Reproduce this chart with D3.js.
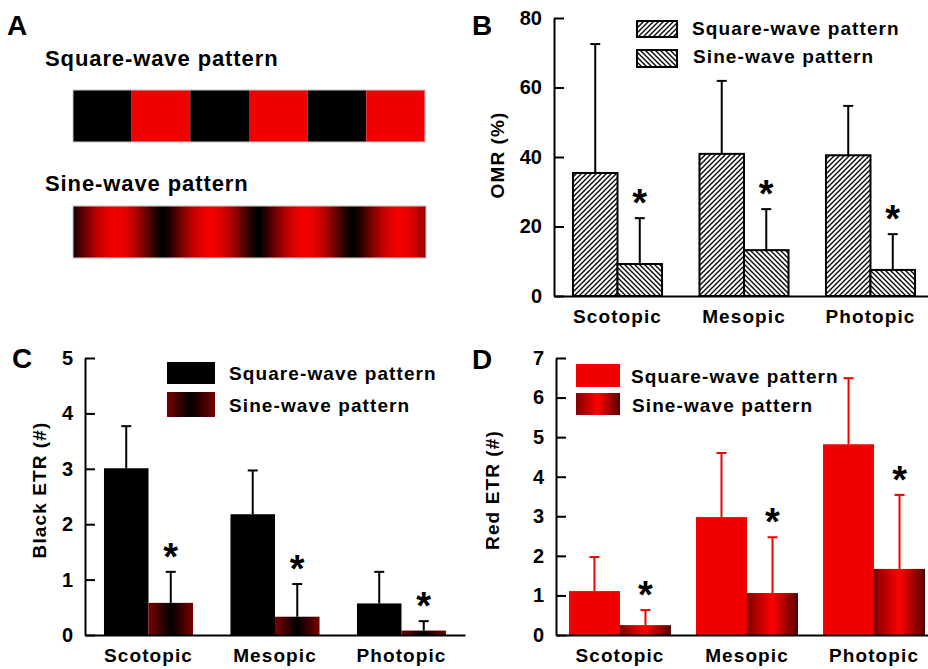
<!DOCTYPE html>
<html>
<head>
<meta charset="utf-8">
<script src="https://cdn.jsdelivr.net/npm/d3@7"></script>
<style>
  body { margin: 0; background: #fff; }
  svg text { font-family: 'Liberation Sans', Arial, sans-serif; font-weight: bold; }
</style>
</head>
<body>
<div id="chart"></div>
<script>
// conditions and series
var conditions = ['Scotopic', 'Mesopic', 'Photopic']
var seriesNames = ['Square-wave pattern', 'Sine-wave pattern']

// B: optomotor response (%)
var omrSquare   = [35.4, 40.9, 40.5]
var omrSquareSD = [37.1, 21.0, 14.2]
var omrSine     = [9.2, 13.2, 7.5]
var omrSineSD   = [13.2, 11.8, 10.3]
var omrTicks    = [0, 20, 40, 60, 80]

// C: black ETR (#)
var blackSquare   = [3.01, 2.18, 0.57]
var blackSquareSD = [0.76, 0.79, 0.57]
var blackSine     = [0.58, 0.33, 0.08]
var blackSineSD   = [0.56, 0.59, 0.17]
var blackTicks    = [0, 1, 2, 3, 4, 5]

// D: red ETR (#)
var redSquare   = [1.11, 2.98, 4.82]
var redSquareSD = [0.86, 1.62, 1.67]
var redSine     = [0.25, 1.06, 1.67]
var redSineSD   = [0.38, 1.41, 1.87]
var redTicks    = [0, 1, 2, 3, 4, 5, 6, 7]

// A: stimulus patterns
var stripeColors = ['#000', '#f20000', '#000', '#f20000', '#000', '#f20000']
var sineCycles = 3.72
var sinePhase = 0.053

var RED = '#f20000'
var width = 928, height = 669

var svg = d3.select('#chart').append('svg')
            .attr('width', width)
            .attr('height', height)
var defs = svg.append('defs')

// hatch patterns for panel B
function hatch(id, d) {
  var p = defs.append('pattern')
              .attr('id', id)
              .attr('patternUnits', 'userSpaceOnUse')
              .attr('width', 5)
              .attr('height', 5)
  p.append('rect').attr('width', 5).attr('height', 5).attr('fill', '#fff')
  p.append('path').attr('d', d).attr('stroke', '#000').attr('stroke-width', 1.3)
}
hatch('hatchUp', 'M-1,1 l2,-2 M0,5 l5,-5 M4,6 l2,-2')
hatch('hatchDown', 'M-1,4 l2,2 M0,0 l5,5 M4,-1 l2,2')

function gradient(id, colors) {
  var lg = defs.append('linearGradient').attr('id', id)
               .attr('x1', 0).attr('x2', 1).attr('y1', 0).attr('y2', 0)
  lg.selectAll('stop').data(colors).enter().append('stop')
    .attr('offset', function(d, i) { return i / (colors.length - 1) })
    .attr('stop-color', function(d) { return d })
}
gradient('blackSineGrad', ['#7a0000', '#000', '#7a0000'])
gradient('redSineGrad', ['#800000', '#ff0000', '#560000'])

// sine-wave grating gradient
var sineStops = d3.range(0, 1.0001, 0.005).map(function(t) {
  var k = (1 - Math.cos(2 * Math.PI * (t * sineCycles + sinePhase))) / 2
  return d3.interpolateRgb('#000', RED)(Math.pow(k, 0.65))
})
gradient('sineGrating', sineStops)

function letter(txt, x, y) {
  svg.append('text').attr('x', x).attr('y', y)
     .attr('font-size', 28).text(txt)
}

// ---- Panel A ----
letter('A', 7, 35)
svg.append('text').attr('x', 45).attr('y', 66).attr('font-size', 22)
   .style('letter-spacing', '0.9px').text(seriesNames[0])
svg.append('text').attr('x', 45).attr('y', 191).attr('font-size', 22)
   .style('letter-spacing', '0.9px').text(seriesNames[1])

var stripeX = d3.scaleBand().domain(d3.range(stripeColors.length)).range([73, 425])
svg.append('g').selectAll('rect').data(stripeColors).enter().append('rect')
   .attr('x', function(d, i) { return stripeX(i) })
   .attr('y', 90)
   .attr('width', stripeX.bandwidth())
   .attr('height', 52)
   .attr('fill', function(d) { return d })
svg.append('rect').attr('x', 73).attr('y', 90).attr('width', 352).attr('height', 52)
   .attr('fill', 'none').attr('stroke', '#c8c8c8').attr('stroke-width', 1)
svg.append('rect').attr('x', 73).attr('y', 206).attr('width', 353).attr('height', 52)
   .attr('fill', 'url(#sineGrating)').attr('stroke', '#c8c8c8').attr('stroke-width', 1)

// ---- bar panels ----
function barPanel(opt) {
  var g = svg.append('g')
  var x = d3.scaleBand().domain(conditions).range(opt.xRange)
            .paddingInner(opt.padIn).paddingOuter(opt.padOut)
  var xs = d3.scaleBand().domain([0, 1]).range([0, x.bandwidth()])
  var y = d3.scaleLinear().domain([0, d3.max(opt.ticks)]).range(opt.yRange)

  var rows = []
  conditions.forEach(function(c, i) {
    rows.push({cond: c, s: 0, v: opt.square[i], sd: opt.squareSD[i]})
    rows.push({cond: c, s: 1, v: opt.sine[i], sd: opt.sineSD[i]})
  })
  function cx(d) { return x(d.cond) + xs(d.s) + xs.bandwidth() / 2 }

  g.selectAll('rect.bar').data(rows).enter().append('rect')
   .attr('class', 'bar')
   .attr('x', function(d) { return x(d.cond) + xs(d.s) })
   .attr('y', function(d) { return y(d.v) })
   .attr('width', xs.bandwidth())
   .attr('height', function(d) { return y(0) - y(d.v) })
   .attr('fill', function(d) { return opt.fills[d.s] })
   .attr('stroke', opt.barStroke || 'none')
   .attr('stroke-width', 2)

  // error bars (upper only)
  var eb = g.selectAll('g.err').data(rows).enter().append('g')
            .attr('stroke', opt.errColor).attr('stroke-width', 2)
  eb.append('line')
    .attr('x1', cx).attr('x2', cx)
    .attr('y1', function(d) { return y(d.v) })
    .attr('y2', function(d) { return y(d.v + d.sd) })
  eb.append('line')
    .attr('x1', function(d) { return cx(d) - 5 })
    .attr('x2', function(d) { return cx(d) + 5 })
    .attr('y1', function(d) { return y(d.v + d.sd) })
    .attr('y2', function(d) { return y(d.v + d.sd) })

  // significance stars over sine-wave bars
  g.selectAll('text.star').data(rows.filter(function(d) { return d.s === 1 }))
   .enter().append('text')
   .attr('class', 'star')
   .attr('x', cx)
   .attr('y', function(d) { return y(d.v + d.sd) - 23 + 21 })
   .attr('text-anchor', 'middle')
   .attr('font-size', 38)
   .text('*')

  // axes
  var yAxis = g.append('g')
    .attr('transform', 'translate(' + opt.xRange[0] + ',0)')
    .call(d3.axisLeft(y).tickValues(opt.ticks).tickFormat(d3.format('d'))
            .tickSize(-10).tickSizeOuter(0).tickPadding(12))
  var xAxis = g.append('g')
    .attr('transform', 'translate(0,' + y(0) + ')')
    .call(d3.axisBottom(x).tickSize(0).tickPadding(14))
  ;[yAxis, xAxis].forEach(function(a) {
    a.attr('font-size', 19).attr('font-family', null)
    a.selectAll('path, line').attr('stroke', '#000').attr('stroke-width', 2)
    a.selectAll('text').attr('fill', '#000')
  })
  yAxis.selectAll('text').attr('font-size', 20)
  xAxis.selectAll('text').style('letter-spacing', '1.1px')

  // y label
  g.append('text')
   .attr('transform', 'translate(' + opt.yLabelX + ',' + opt.yLabelY + ') rotate(-90)')
   .attr('text-anchor', 'middle')
   .attr('font-size', 19)
   .style('letter-spacing', '1.1px')
   .text(opt.yLabel)

  // legend
  var lg = g.selectAll('g.leg').data(seriesNames).enter().append('g')
  lg.append('rect')
    .attr('x', opt.legend.x)
    .attr('y', function(d, i) { return opt.legend.boxY[i] })
    .attr('width', opt.legend.w)
    .attr('height', function(d, i) { return opt.legend.boxH[i] })
    .attr('fill', function(d, i) { return opt.fills[i] })
    .attr('stroke', opt.barStroke || 'none')
    .attr('stroke-width', 2)
  lg.append('text')
    .attr('x', function(d, i) { return opt.legend.textX[i] })
    .attr('y', function(d, i) { return opt.legend.textY[i] })
    .attr('font-size', 19)
    .style('letter-spacing', '1.1px')
    .text(function(d) { return d })
}

// ---- Panel B ----
letter('B', 472, 35)
barPanel({
  square: omrSquare, squareSD: omrSquareSD, sine: omrSine, sineSD: omrSineSD,
  ticks: omrTicks, xRange: [554, 934], yRange: [296, 18],
  padIn: 0.296, padOut: 0.15,
  fills: ['url(#hatchUp)', 'url(#hatchDown)'], barStroke: '#000', errColor: '#000',
  yLabel: 'OMR (%)', yLabelX: 504, yLabelY: 155,
  legend: {x: 637, w: 40, boxY: [21, 50], boxH: [16, 17], textX: [692, 693], textY: [35, 63]}
})

// ---- Panel C ----
letter('C', 12, 368)
barPanel({
  square: blackSquare, squareSD: blackSquareSD, sine: blackSine, sineSD: blackSineSD,
  ticks: blackTicks, xRange: [85, 465], yRange: [635, 358],
  padIn: 0.296, padOut: 0.15,
  fills: ['#000', 'url(#blackSineGrad)'], errColor: '#000',
  yLabel: 'Black ETR (#)', yLabelX: 46, yLabelY: 490,
  legend: {x: 167, w: 48, boxY: [362, 392], boxH: [22, 25], textX: [229, 229], textY: [380, 412]}
})

// ---- Panel D ----
letter('D', 472, 369)
barPanel({
  square: redSquare, squareSD: redSquareSD, sine: redSine, sineSD: redSineSD,
  ticks: redTicks, xRange: [556, 938], yRange: [635, 358],
  padIn: 0.197, padOut: 0.102,
  fills: [RED, 'url(#redSineGrad)'], errColor: RED,
  yLabel: 'Red ETR (#)', yLabelX: 499, yLabelY: 490,
  legend: {x: 576, w: 44, boxY: [364, 393], boxH: [23, 22], textX: [631, 632], textY: [383, 412]}
})
</script>
</body>
</html>
